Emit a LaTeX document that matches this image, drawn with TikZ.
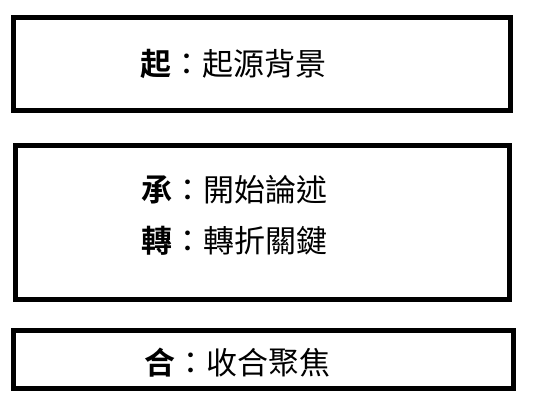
\documentclass[tikz,border=0pt]{standalone}
\usepackage{fontspec}
\newfontfamily\cjk{Noto Sans CJK TC}
\newfontfamily\cjkb{Noto Sans CJK TC Bold}
\tikzset{
  frame/.style={draw=black, line width=5pt, fill=none, inner sep=0pt},
  label/.style={anchor=base west, inner sep=0pt, font=\cjk\fontsize{31}{31}\selectfont, text=black}
}
\begin{document}
\begin{tikzpicture}[x=1pt,y=-1pt]
\useasboundingbox (0,0) rectangle (540,409);
\node[frame, minimum width=497pt, minimum height=93pt] (b1) at (262,64) {};
\node[frame, minimum width=494pt, minimum height=154pt] (b2) at (262.5,222.5) {};
\node[frame, minimum width=499.5pt, minimum height=58pt] (b3) at (263.25,359.5) {};
\node[label] (t1) at (140.5,75.5) {{\cjkb 起}：起源背景};
\node[label] (t2) at (141.5,201) {{\cjkb 承}：開始論述};
\node[label] (t3) at (141.5,252.5) {{\cjkb 轉}：轉折關鍵};
\node[label] (t4) at (144.5,374) {{\cjkb 合}：收合聚焦};
\end{tikzpicture}
\end{document}
